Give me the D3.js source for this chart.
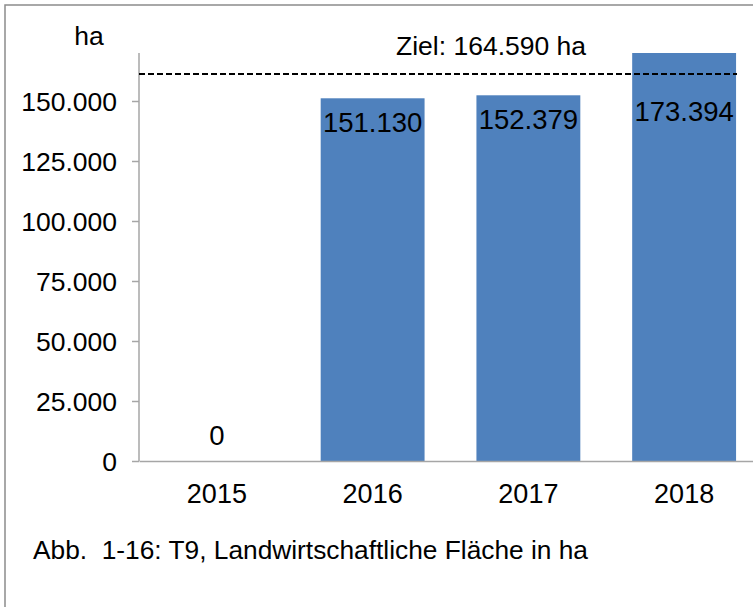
<!DOCTYPE html>
<html>
<head>
<meta charset="utf-8">
<script src="https://cdn.jsdelivr.net/npm/d3@7"></script>
<style>
  html, body { margin: 0; padding: 0; background: #fff; }
  svg { display: block; }
  text { font-family: "Liberation Sans", Arial, sans-serif; fill: #000; }
</style>
</head>
<body>
<svg id="chart" width="753" height="607"></svg>
<script>
// ---- data ----
const categories = ["2015", "2016", "2017", "2018"];
const values = [0, 151130, 152379, 173394];
const valueLabels = ["0", "151.130", "152.379", "173.394"];
const yTicks = [0, 25000, 50000, 75000, 100000, 125000, 150000];
const yTickLabels = ["0", "25.000", "50.000", "75.000", "100.000", "125.000", "150.000"];
const yMax = 170000;
const targetLineLevel = [161250];          // level where the dashed line is drawn in the picture
const targetText = ["Ziel: 164.590 ha"];
const unitText = ["ha"];
const captionText = ["Abb.  1-16: T9, Landwirtschaftliche Fläche in ha"];

// ---- layout ----
const svg = d3.select("#chart");
const mLeft = 139, mRight = 762, mTop = 53, mBottom = 461;
const fs = 26.5;
const axisColor = "#a6a6a6";
const barColor = "#4f81bd";

const x = d3.scaleBand().domain(categories).range([mLeft, mRight]).paddingInner(0.333).paddingOuter(0.1665);
const y = d3.scaleLinear().domain([0, yMax]).range([mBottom, mTop]).clamp(true);

// outer frame
svg.append("rect").attr("x", 5).attr("y", 5).attr("width", 800).attr("height", 700)
  .attr("fill", "none").attr("stroke", "#8c8c8c").attr("stroke-width", 1.5);

// bars
svg.append("g").selectAll("rect").data(values).join("rect")
  .attr("x", (d, i) => x(categories[i]))
  .attr("width", x.bandwidth())
  .attr("y", d => y(d))
  .attr("height", d => mBottom - y(d))
  .attr("fill", barColor);

// y axis
const yAxis = d3.axisLeft(y).tickValues(yTicks).tickSize(7).tickFormat((d, i) => yTickLabels[i]);
const gy = svg.append("g").attr("transform", `translate(${mLeft},0)`).call(yAxis);
gy.select(".domain").attr("stroke", axisColor).attr("stroke-width", 1.5).attr("d", `M-0,${mTop}V${mBottom}`);
gy.selectAll(".tick line").attr("stroke", axisColor).attr("stroke-width", 1.5);
gy.selectAll(".tick text").attr("x", -22).attr("dy", null).attr("y", 9.5)
  .style("font-size", fs + "px").style("font-family", '"Liberation Sans", Arial, sans-serif').attr("fill", "#000");

// x axis
const xAxis = d3.axisBottom(x).tickSize(0).tickPadding(0);
const gx = svg.append("g").attr("transform", `translate(0,${mBottom})`).call(xAxis);
gx.select(".domain").attr("stroke", axisColor).attr("stroke-width", 1.5);
gx.selectAll(".tick text").attr("dy", null).attr("y", 41.5)
  .style("font-size", 27 + "px").style("font-family", '"Liberation Sans", Arial, sans-serif').attr("fill", "#000");

// target line
const lineY = y(targetLineLevel[0]);
svg.append("line").attr("x1", mLeft).attr("x2", 737).attr("y1", lineY).attr("y2", lineY)
  .attr("stroke", "#000").attr("stroke-width", 2).attr("stroke-dasharray", "6,3");
svg.append("text").attr("x", 396).attr("y", 55).style("font-size", fs + "px").text(targetText[0]);

// value labels
svg.append("g").selectAll("text").data(values).join("text")
  .attr("x", (d, i) => x(categories[i]) + x.bandwidth() / 2)
  .attr("y", d => d === 0 ? mBottom - 16 : Math.max(y(d) + 34, lineY + 47))
  .attr("text-anchor", "middle")
  .style("font-size", "27.5px")
  .text((d, i) => valueLabels[i]);

// unit label
svg.append("text").attr("x", 89).attr("y", 45).attr("text-anchor", "middle")
  .style("font-size", fs + "px").text(unitText[0]);

// caption
svg.append("text").attr("x", 33).attr("y", 559).style("font-size", "26.3px")
  .style("white-space", "pre").attr("xml:space", "preserve").text(captionText[0]);
</script>
</body>
</html>
